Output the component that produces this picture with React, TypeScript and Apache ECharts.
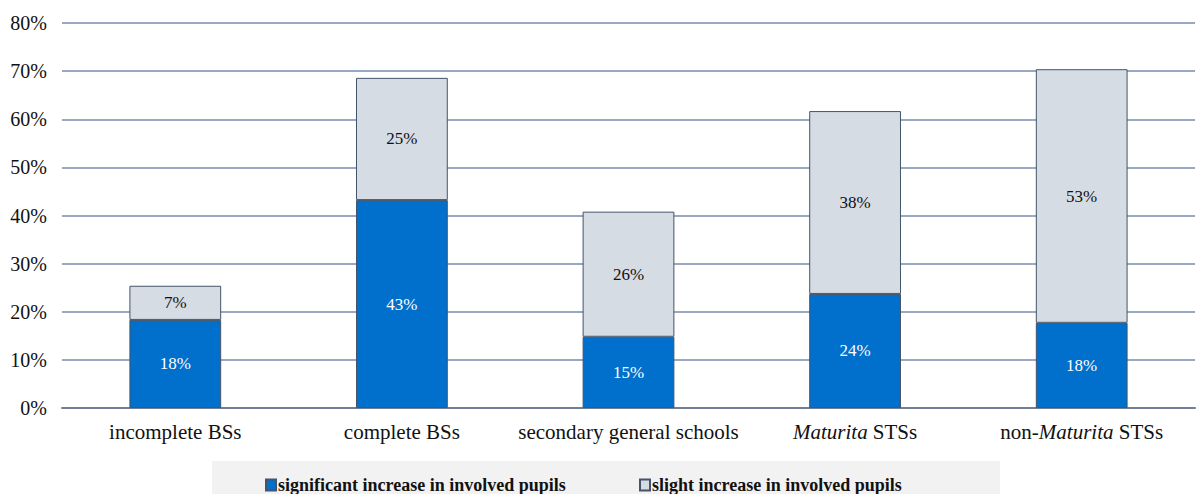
import React, { useEffect, useRef } from "react";
import * as echarts from "echarts";

const categories = [
  "incomplete BSs",
  "complete BSs",
  "secondary general schools",
  "Maturita STSs",
  "non-Maturita STSs",
];
const significant = [18.3, 43.2, 14.8, 23.7, 17.7];
const slight = [7.1, 25.4, 26.0, 38.0, 52.7];
const yTicks = [0, 10, 20, 30, 40, 50, 60, 70, 80];
const seriesNames = [
  "significant increase in involved pupils",
  "slight increase in involved pupils",
];

const FONT = "'Liberation Serif', 'Times New Roman', serif";

export default function App() {
  const ref = useRef<HTMLDivElement>(null);
  useEffect(() => {
    if (!ref.current) return;
    const chart = echarts.init(ref.current, undefined, { renderer: "svg" });
    const catLabel = (v: string) => {
      if (v === "Maturita STSs") return "{i|Maturita} STSs";
      if (v === "non-Maturita STSs") return "non-{i|Maturita} STSs";
      return v;
    };
    chart.setOption({
      animation: false,
      backgroundColor: "#ffffff",
      textStyle: { fontFamily: FONT },
      grid: { left: 62, right: 2, top: 23, bottom: 86, containLabel: false },
      xAxis: {
        type: "category",
        data: categories,
        axisTick: { show: false },
        axisLine: { lineStyle: { color: "#6f7f99", width: 2 } },
        axisLabel: {
          color: "#111",
          fontSize: 21,
          fontFamily: FONT,
          margin: 13,
          interval: 0,
          formatter: catLabel,
          rich: { i: { fontStyle: "italic", fontSize: 21, fontFamily: FONT, color: "#111" } },
        },
      },
      yAxis: {
        type: "value",
        min: yTicks[0],
        max: yTicks[yTicks.length - 1],
        interval: 10,
        axisLine: { show: false },
        axisTick: { show: false },
        splitLine: { lineStyle: { color: "#97a8c3", width: 2 } },
        axisLabel: {
          color: "#111",
          fontSize: 20,
          fontFamily: FONT,
          margin: 15,
          formatter: (v: number) => v + "%",
        },
      },
      legend: [
        {
          data: [seriesNames[0]],
          left: 260,
          top: 471,
          itemWidth: 10,
          itemHeight: 11,
          itemGap: 4,
          icon: "rect",
          textStyle: { fontFamily: FONT, fontWeight: "bold", fontSize: 18, color: "#111", padding: [0, 0, 0, -3] },
        },
        {
          data: [seriesNames[1]],
          left: 634,
          top: 471,
          itemWidth: 10,
          itemHeight: 11,
          icon: "rect",
          textStyle: { fontFamily: FONT, fontWeight: "bold", fontSize: 18, color: "#111", padding: [0, 0, 0, -3] },
        },
      ],
      graphic: [
        {
          type: "rect",
          z: -10,
          silent: true,
          shape: { x: 212, y: 461, width: 788, height: 33 },
          style: { fill: "#f2f2f2" },
        },
      ],
      series: [
        {
          name: seriesNames[0],
          type: "bar",
          stack: "total",
          data: significant,
          barWidth: "40.5%",
          itemStyle: { color: "#0070cc", borderColor: "#44546a", borderWidth: 1 },
          label: {
            show: true,
            position: "inside",
            color: "#ffffff",
            fontSize: 17,
            fontFamily: FONT,
            formatter: (p: any) => Math.round(p.value) + "%",
          },
        },
        {
          name: seriesNames[1],
          type: "bar",
          stack: "total",
          data: slight,
          barWidth: "40.5%",
          itemStyle: { color: "#d6dce4", borderColor: "#44546a", borderWidth: 1 },
          label: {
            show: true,
            position: "inside",
            color: "#111",
            fontSize: 17,
            fontFamily: FONT,
            formatter: (p: any) => Math.round(p.value) + "%",
          },
        },
      ],
    });
    return () => chart.dispose();
  }, []);
  return (
    <div
      ref={ref}
      style={{ position: "fixed", left: 0, top: 0, width: 1197, height: 494 }}
    />
  );
}
